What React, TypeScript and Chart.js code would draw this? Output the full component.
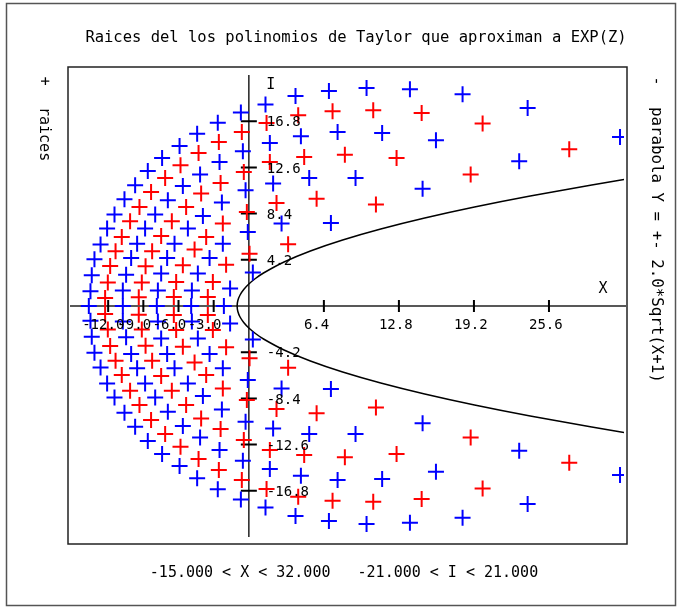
import React, { useEffect, useRef } from "react";
import { Chart, registerables } from "chart.js";

Chart.register(...registerables);

// Roots of the Taylor polynomials (blue series), upper half-plane
const blueUpperX = [
  -0.68, -2.65, -4.41, -5.91, -0.51, -7.4, -2.5, -8.62, -4.16, -9.7,
  -5.63, -0.28, -10.61, -6.91, -2.3, -11.46, -7.99, -3.92, -12.09, -8.85,
  -5.2, -0.09, -12.65, -9.53, -6.34, -2.22, -13.17, -10.04, -6.97, -3.35,
  0.34, -13.4, -10.47, -7.48, -4.35, -13.51, -10.75, -7.76, -4.86, -1.6,
  1.42, 3.98, 6.83, 10.04, 13.74, 18.23, 23.78, 31.66, 4.44, 7.57,
  11.37, 15.96, 23.06, 1.79, 5.15, 9.1, 14.82, 2.07, 2.79, 7.0,
];
const blueUpperY = [
  17.58, 16.67, 15.67, 14.55, 14.06, 13.45, 13.09, 12.27, 11.95, 10.97,
  10.91, 10.52, 9.7, 9.61, 9.4, 8.31, 8.31, 8.18, 7.04, 7.04,
  7.04, 6.73, 5.58, 5.67, 5.67, 5.67, 4.25, 4.36, 4.36, 4.36,
  3.04, 2.79, 2.85, 2.95, 2.95, 1.34, 1.4, 1.4, 1.4, 1.58,
  18.31, 19.09, 19.55, 19.82, 19.7, 19.25, 18.0, 15.36, 15.43, 15.82,
  15.73, 15.06, 13.15, 14.82, 11.64, 11.64, 10.67, 11.13, 7.49, 7.55,
];
// blue, lower half-plane (same x positions as the upper ones)
const blueLowerY = [
  -17.58, -16.67, -15.67, -14.55, -14.06, -13.45, -13.09, -12.27, -11.95, -10.97,
  -10.91, -10.52, -9.7, -9.61, -9.4, -8.31, -8.31, -8.18, -7.04, -7.04,
  -7.04, -6.73, -5.58, -5.67, -5.67, -5.67, -4.25, -4.36, -4.36, -4.36,
  -3.04, -2.79, -2.85, -2.95, -2.95, -1.34, -1.4, -1.4, -1.4, -1.58,
  -18.31, -19.09, -19.55, -19.82, -19.7, -19.25, -18.0, -15.36, -15.43, -15.82,
  -15.73, -15.06, -13.15, -14.82, -11.64, -11.64, -10.67, -11.13, -7.49, -7.55,
];
// blue, real roots
const blueAxisX = [-13.65, -10.75, -7.85, -4.92, -2.13];
const blueAxisY = [0, 0, 0, 0, 0];

// red series, upper half-plane
const redUpperX = [
  -0.6, -2.56, -4.29, -5.83, -0.43, -7.14, -2.41, -8.34, -4.07, -9.33,
  -5.35, -0.17, -10.13, -6.57, -2.22, -10.84, -7.48, -3.64, -11.37, -8.25,
  -4.63, 0.06, -11.83, -8.81, -5.63, -1.94, -12.03, -9.13, -6.2, -3.07,
  -12.26, -9.39, -6.4, -3.5, 4.21, 1.51, 7.14, 10.61, 14.74, 19.94,
  27.33, 18.92, 4.72, 8.19, 12.6, 1.79, 2.36, 5.78, 10.84, 3.35,
];
const redUpperY = [
  15.82, 14.91, 13.91, 12.79, 12.18, 11.64, 11.18, 10.36, 10.22, 9.0,
  9.0, 8.55, 7.7, 7.7, 7.49, 6.27, 6.36, 6.27, 4.97, 4.97,
  5.13, 4.76, 3.64, 3.61, 3.7, 3.76, 2.13, 2.13, 2.18, 2.18,
  0.73, 0.79, 0.82, 0.82, 17.34, 16.64, 17.7, 17.79, 17.55, 16.58,
  14.25, 11.95, 13.55, 13.76, 13.45, 13.09, 9.36, 9.76, 9.22, 5.61,
];
const redLowerY = [
  -15.82, -14.91, -13.91, -12.79, -12.18, -11.64, -11.18, -10.36, -10.22, -9.0,
  -9.0, -8.55, -7.7, -7.7, -7.49, -6.27, -6.36, -6.27, -4.97, -4.97,
  -5.13, -4.76, -3.64, -3.61, -3.7, -3.76, -2.13, -2.13, -2.18, -2.18,
  -0.73, -0.79, -0.82, -0.82, -17.34, -16.64, -17.7, -17.79, -17.55, -16.58,
  -14.25, -11.95, -13.55, -13.76, -13.45, -13.09, -9.36, -9.76, -9.22, -5.61,
];

// parabola Y = +- 2.0*Sqrt(X+1), sampled points
const parabolaX = [
  32, 29.25, 24, 19.25, 15, 11.25, 8, 5.25, 3, 1.25, 0.5625, 0, -0.4375, -0.75, -0.9375, -1,
  -0.9375, -0.75, -0.4375, 0, 0.5625, 1.25, 3, 5.25, 8, 11.25, 15, 19.25, 24, 29.25, 32,
];
const parabolaY = [
  -11.49, -11, -10, -9, -8, -7, -6, -5, -4, -3, -2.5, -2, -1.5, -1, -0.5, 0,
  0.5, 1, 1.5, 2, 2.5, 3, 4, 5, 6, 7, 8, 9, 10, 11, 11.49,
];

const xTickValues = [-12, -9, -6, -3, 6.4, 12.8, 19.2, 25.6];
const xTickLabels = ["-12.0", "-9.0", "-6.0", "-3.0", "6.4", "12.8", "19.2", "25.6"];
const yTickValues = [4.2, 8.4, 12.6, 16.8, -4.2, -8.4, -12.6, -16.8];
const yTickLabels = ["4.2", "8.4", "12.6", "16.8", "-4.2", "-8.4", "-12.6", "-16.8"];

const titleText = "Raices del los polinomios de Taylor que aproximan a EXP(Z)";
const rangeText = "-15.000 < X < 32.000   -21.000 < I < 21.000";
const leftLabel = "raices";
const rightLabel = "parabola Y = +- 2.0*Sqrt(X+1)";

const FONT = '"DejaVu Sans Mono", monospace';

const decorPlugin = {
  id: "decor",
  beforeDatasetsDraw(chart: any) {
    const { ctx } = chart;
    const xs = chart.scales.x;
    const ys = chart.scales.y;
    const x0 = xs.getPixelForValue(0);
    const y0 = ys.getPixelForValue(0);
    ctx.save();
    // outer frame
    ctx.strokeStyle = "#555";
    ctx.lineWidth = 1.5;
    ctx.strokeRect(6.5, 3.5, 669, 602);
    // plot box
    const left = xs.left - 5;
    const right = xs.right + 3;
    const top = ys.top - 8;
    const bottom = ys.bottom + 7;
    ctx.strokeStyle = "#222";
    ctx.lineWidth = 1.5;
    ctx.strokeRect(left, top, right - left, bottom - top);
    // axes
    ctx.beginPath();
    ctx.moveTo(left + 2, y0);
    ctx.lineTo(right - 1, y0);
    ctx.moveTo(x0, ys.top);
    ctx.lineTo(x0, ys.bottom);
    ctx.stroke();
    // ticks
    ctx.strokeStyle = "#000";
    ctx.lineWidth = 2;
    ctx.beginPath();
    xTickValues.forEach((v) => {
      const p = xs.getPixelForValue(v);
      ctx.moveTo(p, y0 - 6);
      ctx.lineTo(p, y0 + 6);
    });
    yTickValues.forEach((v) => {
      const p = ys.getPixelForValue(v);
      ctx.moveTo(x0 - 8, p);
      ctx.lineTo(x0 + 8, p);
    });
    ctx.stroke();
    ctx.restore();
  },
  afterDatasetsDraw(chart: any) {
    const { ctx } = chart;
    const xs = chart.scales.x;
    const ys = chart.scales.y;
    const x0 = xs.getPixelForValue(0);
    const y0 = ys.getPixelForValue(0);
    ctx.save();
    ctx.fillStyle = "#000";
    ctx.textBaseline = "middle";
    // tick labels
    ctx.font = `14px ${FONT}`;
    ctx.textAlign = "left";
    xTickValues.forEach((v, i) => {
      const p = xs.getPixelForValue(v);
      ctx.fillText(xTickLabels[i], p - (v < 0 ? 26 : 20), y0 + 19.5);
    });
    yTickValues.forEach((v, i) => {
      const p = ys.getPixelForValue(v);
      ctx.fillText(yTickLabels[i], x0 + 18, p + 1.5);
    });
    // axis names
    ctx.font = `15px ${FONT}`;
    ctx.textAlign = "center";
    ctx.fillText("I", x0 + 22, ys.top + 10);
    ctx.fillText("X", 603, y0 - 17);
    // range text
    ctx.fillText(rangeText, 344, 573);
    // title
    ctx.font = `15.5px ${FONT}`;
    ctx.fillText(titleText, 356, 38);
    ctx.font = `15px ${FONT}`;
    // left rotated legend
    ctx.save();
    ctx.translate(44, 81);
    ctx.rotate(Math.PI / 2);
    ctx.fillText("+", 0, 0);
    ctx.restore();
    ctx.save();
    ctx.translate(44, 107);
    ctx.rotate(Math.PI / 2);
    ctx.textAlign = "left";
    ctx.fillText(leftLabel, 0, 0);
    ctx.restore();
    // right rotated legend
    ctx.save();
    ctx.translate(656, 81);
    ctx.rotate(Math.PI / 2);
    ctx.fillText("-", 0, 0);
    ctx.restore();
    ctx.save();
    ctx.translate(656, 107);
    ctx.rotate(Math.PI / 2);
    ctx.textAlign = "left";
    ctx.font = `15.8px ${FONT}`;
    ctx.fillText(rightLabel, 0, 0);
    ctx.restore();
    ctx.restore();
  },
};

export default function App() {
  const canvasRef = useRef<HTMLCanvasElement | null>(null);

  useEffect(() => {
    const canvas = canvasRef.current;
    if (!canvas) return;
    const bluePoints = [
      ...blueUpperX.map((x, i) => ({ x, y: blueUpperY[i] })),
      ...blueAxisX.map((x, i) => ({ x, y: blueAxisY[i] })),
      ...blueUpperX.map((x, i) => ({ x, y: blueLowerY[i] })),
    ];
    const redPoints = [
      ...redUpperX.map((x, i) => ({ x, y: redUpperY[i] })),
      ...redUpperX.map((x, i) => ({ x, y: redLowerY[i] })),
    ];
    const parabolaPoints = parabolaX.map((x, i) => ({ x, y: parabolaY[i] }));

    const chart = new Chart(canvas, {
      type: "scatter",
      data: {
        datasets: [
          {
            label: "raices azul",
            data: bluePoints,
            pointStyle: "cross",
            pointRadius: 8,
            pointBorderWidth: 2,
            borderColor: "#0000ff",
            backgroundColor: "#0000ff",
            showLine: false,
          },
          {
            label: "raices rojo",
            data: redPoints,
            pointStyle: "cross",
            pointRadius: 8,
            pointBorderWidth: 2,
            borderColor: "#ff0000",
            backgroundColor: "#ff0000",
            showLine: false,
          },
          {
            label: "parabola",
            data: parabolaPoints,
            showLine: true,
            pointRadius: 0,
            borderColor: "#000",
            borderWidth: 1.5,
            tension: 0.35,
            fill: false,
          } as any,
        ],
      },
      options: {
        animation: false,
        responsive: false,
        devicePixelRatio: 1,
        layout: { padding: { left: 73, right: 56, top: 75, bottom: 72 } },
        scales: {
          x: { type: "linear", min: -15, max: 32, display: false },
          y: { type: "linear", min: -21, max: 21, display: false },
        },
        plugins: {
          legend: { display: false },
          tooltip: { enabled: false },
        },
      },
      plugins: [decorPlugin],
    });
    return () => chart.destroy();
  }, []);

  return (
    <div style={{ position: "fixed", left: 0, top: 0, width: 680, height: 609, background: "#fff" }}>
      <canvas ref={canvasRef} width={680} height={609} style={{ display: "block" }} />
    </div>
  );
}
